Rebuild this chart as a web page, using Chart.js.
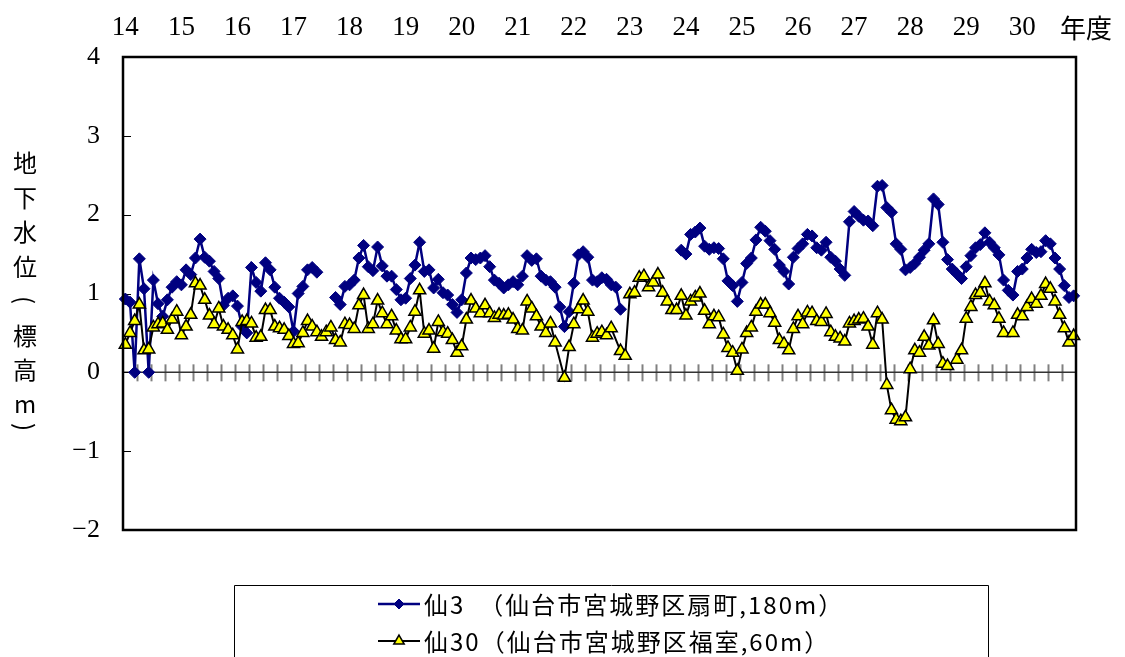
<!DOCTYPE html>
<html>
<head>
<meta charset="utf-8">
<script src="https://cdn.jsdelivr.net/npm/chart.js@4.4.1/dist/chart.umd.min.js"></script>
<style>
  html, body { margin: 0; padding: 0; background: #fff; }
  canvas { display: block; }
</style>
</head>
<body>
<canvas id="c" width="1125" height="657"></canvas>
<script>
// ---- data ----
const yearLabels = ['14','15','16','17','18','19','20','21','22','23','24','25','26','27','28','29','30'];
const monthLabels = ['4','5','6','7','8','9','10','11','12','1','2','3'];
const categories = [];
yearLabels.forEach(y => monthLabels.forEach(m => categories.push(y + '年度' + m + '月')));

const seriesNames = ['仙3　（仙台市宮城野区扇町,180m）', '仙30（仙台市宮城野区福室,60m）'];
const yTickValues = [-2, -1, 0, 1, 2, 3, 4];

const sen3 = [
  0.93,0.89,0,1.44,1.06,0,1.17,0.87,0.71,0.92,1.08,1.15,
  1.11,1.30,1.24,1.45,1.69,1.46,1.41,1.28,1.19,0.85,0.94,0.97,
  0.84,0.58,0.50,1.33,1.14,1.03,1.39,1.30,1.08,0.94,0.89,0.83,
  0.52,1.00,1.09,1.30,1.33,1.27,null,null,null,0.95,0.86,1.09,
  1.11,1.17,1.45,1.61,1.34,1.29,1.59,1.35,1.22,1.22,1.05,0.92,
  0.94,1.19,1.36,1.65,1.28,1.30,1.07,1.18,1.01,0.98,0.86,0.76,
  0.92,1.26,1.45,1.43,1.45,1.48,1.34,1.17,1.13,1.07,1.11,1.15,
  1.11,1.22,1.48,1.42,1.44,1.22,1.17,1.15,1.08,0.83,0.58,0.77,
  1.13,1.49,1.53,1.46,1.17,1.15,1.20,1.18,1.11,1.08,0.80,null,
  null,null,null,null,null,null,null,null,null,null,null,1.55,
  1.50,1.75,1.78,1.83,1.60,1.56,1.58,1.57,1.44,1.16,1.10,0.90,
  1.14,1.38,1.45,1.68,1.84,1.79,1.67,1.56,1.36,1.28,1.12,1.46,
  1.57,1.63,1.75,1.73,1.58,1.55,1.65,1.46,1.41,1.31,1.23,1.91,
  2.04,1.98,1.93,1.92,1.86,2.36,2.37,2.09,2.03,1.63,1.56,1.30,
  1.33,1.38,1.46,1.55,1.63,2.20,2.13,1.65,1.43,1.31,1.25,1.19,
  1.34,1.48,1.58,1.62,1.77,1.65,1.58,1.49,1.17,1.04,0.98,1.28,
  1.31,1.45,1.56,1.52,1.53,1.67,1.63,1.45,1.31,1.10,0.95,0.97
];

const sen30 = [
  0.35,0.50,0.65,0.86,0.28,0.29,0.57,0.61,0.62,0.54,0.67,0.77,
  0.47,0.58,0.73,1.13,1.10,0.92,0.72,0.61,0.81,0.58,0.54,0.47,
  0.29,0.64,0.65,0.62,0.44,0.45,0.79,0.79,0.58,0.56,0.54,0.46,
  0.36,0.37,0.50,0.65,0.58,0.51,0.45,0.51,0.57,0.41,0.38,0.61,
  0.60,0.55,0.85,0.98,0.55,0.61,0.91,0.75,0.61,0.71,0.53,0.42,
  0.42,0.57,0.77,1.04,0.49,0.53,0.30,0.64,0.51,0.49,0.41,0.25,
  0.33,0.67,0.91,0.81,0.75,0.85,0.75,0.69,0.73,0.72,0.73,0.67,
  0.55,0.53,0.90,0.81,0.71,0.58,0.50,0.62,0.38,null,-0.07,0.32,
  0.61,0.80,0.91,0.77,0.44,0.49,0.51,0.47,0.56,null,0.27,0.21,
  0.99,1.01,1.20,1.22,1.08,1.14,1.24,1.01,0.90,0.79,0.79,0.97,
  0.72,0.90,0.95,1.00,0.78,0.61,0.71,0.70,0.48,0.31,0.25,0.02,
  0.29,0.50,0.57,0.77,0.86,0.86,0.75,0.63,0.41,0.36,0.28,0.55,
  0.71,0.61,0.76,0.75,0.65,0.64,0.74,0.51,0.45,0.43,0.39,0.62,
  0.65,0.67,0.68,0.58,0.35,0.75,0.67,-0.16,-0.48,-0.60,-0.62,-0.57,
  0.04,0.28,0.25,0.45,0.34,0.66,0.36,0.11,0.08,null,0.16,0.28,
  0.68,0.83,0.98,1.01,1.13,0.90,0.85,0.68,0.50,null,0.50,0.73,
  0.71,0.83,0.93,0.87,0.97,1.12,1.06,0.90,0.73,0.56,0.38,0.46
];
// missing months of 仙30 across which the line is still drawn
const bridgedGaps30 = [177, 189];

// ---- styles ----
const NUM_FONT = '"Liberation Serif", "DejaVu Serif", serif';
const JP_FONT = '"Noto Sans CJK JP", "Noto Sans", sans-serif';

function drawMarker(ctx, style, x, y, r) {
  if (style === 'rectRot') {
    ctx.moveTo(x, y - r); ctx.lineTo(x + r, y); ctx.lineTo(x, y + r); ctx.lineTo(x - r, y); ctx.closePath();
  } else {
    const h = Math.sqrt(3) / 2 * r;
    ctx.moveTo(x, y - r); ctx.lineTo(x + h, y + r / 2); ctx.lineTo(x - h, y + r / 2); ctx.closePath();
  }
}

const decorPlugin = {
  id: 'decor',
  beforeDatasetsDraw(chart) {
    const { ctx, chartArea: a, scales: { x, y } } = chart;
    const y0 = y.getPixelForValue(0);
    ctx.save();
    ctx.strokeStyle = '#808080';
    ctx.lineWidth = 2;
    const half = (x.getPixelForValue(1) - x.getPixelForValue(0)) / 2;
    for (let i = 3; i < categories.length; i += 3) {
      const px = Math.round(x.getPixelForValue(i) - half) + 0.5;
      ctx.beginPath();
      ctx.moveTo(px, y0 - 8);
      ctx.lineTo(px, y0 + 9);
      ctx.stroke();
    }
    ctx.strokeStyle = '#333';
    ctx.lineWidth = 1.5;
    ctx.beginPath();
    ctx.moveTo(a.left, y0);
    ctx.lineTo(a.right, y0);
    ctx.stroke();
    ctx.strokeStyle = '#000';
    ctx.lineWidth = 1;
    yTickValues.forEach(v => {
      const py = Math.round(y.getPixelForValue(v)) + 0.5;
      ctx.beginPath();
      ctx.moveTo(a.left, py);
      ctx.lineTo(a.left + 8, py);
      ctx.stroke();
    });
    ctx.restore();
  },
  afterDraw(chart) {
    const { ctx, chartArea: a } = chart;
    ctx.save();
    ctx.strokeStyle = '#000';
    ctx.lineWidth = 2.5;
    ctx.strokeRect(a.left, a.top, a.right - a.left, a.bottom - a.top);

    ctx.fillStyle = '#000';
    ctx.font = '26px ' + JP_FONT;
    ctx.textAlign = 'center';
    ctx.textBaseline = 'middle';
    ctx.fillText('年度', a.right + 10, 28);

    const cx = 25;
    const items = [
      ['地', 163, 0], ['下', 198, 0], ['水', 232, 0], ['位', 267, 0],
      ['(', 300, 1], ['標', 336, 0], ['高', 370, 0], ['m', 404, 0], [')', 427, 1]
    ];
    items.forEach(([ch, cy, rot]) => {
      ctx.save();
      ctx.translate(cx, cy);
      if (rot) ctx.rotate(Math.PI / 2);
      ctx.font = '24px ' + JP_FONT;
      ctx.textAlign = 'center';
      ctx.textBaseline = 'middle';
      ctx.fillText(ch, 0, 0);
      ctx.restore();
    });

    const lx0 = 234.5, ly0 = 585.5, lx1 = 988.5;
    ctx.strokeStyle = '#000';
    ctx.lineWidth = 1;
    ctx.beginPath();
    ctx.moveTo(lx0, 700);
    ctx.lineTo(lx0, ly0);
    ctx.lineTo(lx1, ly0);
    ctx.lineTo(lx1, 700);
    ctx.stroke();
    const rows = [604, 641];
    chart.data.datasets.forEach((ds, k) => {
      const ry = rows[k];
      ctx.strokeStyle = ds.borderColor;
      ctx.lineWidth = ds.borderWidth;
      ctx.beginPath();
      ctx.moveTo(378, ry);
      ctx.lineTo(420, ry);
      ctx.stroke();
      ctx.fillStyle = ds.pointBackgroundColor;
      ctx.strokeStyle = ds.pointBorderColor;
      ctx.lineWidth = ds.pointBorderWidth;
      ctx.beginPath();
      drawMarker(ctx, ds.pointStyle, 399, ry, ds.legendRadius);
      ctx.fill();
      ctx.stroke();
      ctx.fillStyle = '#000';
      ctx.font = '24px ' + JP_FONT;
      ctx.letterSpacing = '2px';
      ctx.textAlign = 'left';
      ctx.textBaseline = 'middle';
      ctx.fillText(ds.label, 424, ry + 1);
      ctx.letterSpacing = '0px';
    });
    ctx.restore();
  }
};

new Chart(document.getElementById('c').getContext('2d'), {
  type: 'line',
  data: {
    labels: categories,
    datasets: [
      {
        label: seriesNames[0],
        data: sen3,
        borderColor: '#000080',
        backgroundColor: '#000080',
        borderWidth: 2.5,
        pointStyle: 'rectRot',
        pointRadius: 6,
        pointBackgroundColor: '#000080',
        pointBorderColor: '#000080',
        pointBorderWidth: 1,
        legendRadius: 5,
        tension: 0,
        spanGaps: false,
        order: 1
      },
      {
        label: seriesNames[1],
        data: sen30,
        borderColor: '#000000',
        backgroundColor: '#FFFF00',
        borderWidth: 2,
        pointStyle: 'triangle',
        pointRadius: 7,
        pointBackgroundColor: '#FFFF00',
        pointBorderColor: '#000000',
        pointBorderWidth: 1.5,
        legendRadius: 6,
        tension: 0,
        spanGaps: true,
        segment: {
          borderColor: c => (c.p1DataIndex - c.p0DataIndex > 1 &&
            !bridgedGaps30.includes(c.p0DataIndex + 1)) ? 'rgba(0,0,0,0)' : undefined
        },
        order: 0
      }
    ]
  },
  options: {
    responsive: false,
    animation: false,
    devicePixelRatio: 1,
    layout: { padding: { left: 0, top: 0, right: 49, bottom: 127 } },
    plugins: { legend: { display: false }, tooltip: { enabled: false } },
    scales: {
      x: {
        type: 'category',
        position: 'top',
        offset: true,
        grid: { display: false, drawTicks: false },
        border: { display: false },
        ticks: {
          autoSkip: false, maxRotation: 0, minRotation: 0, padding: 13,
          color: '#000', font: { family: NUM_FONT, size: 27 },
          callback: (v, i) => (i % 12 === 0 ? yearLabels[i / 12] : '')
        },
        afterFit: s => { s.height = 57; }
      },
      y: {
        min: -2, max: 4,
        grid: { display: false, drawTicks: false },
        border: { display: false },
        ticks: {
          stepSize: 1, padding: 23, color: '#000',
          font: { family: NUM_FONT, size: 26 },
          callback: v => (v < 0 ? '\u2212' + Math.abs(v) : String(v))
        },
        afterFit: s => { s.width = 123; }
      }
    }
  },
  plugins: [decorPlugin]
});
</script>
</body>
</html>
